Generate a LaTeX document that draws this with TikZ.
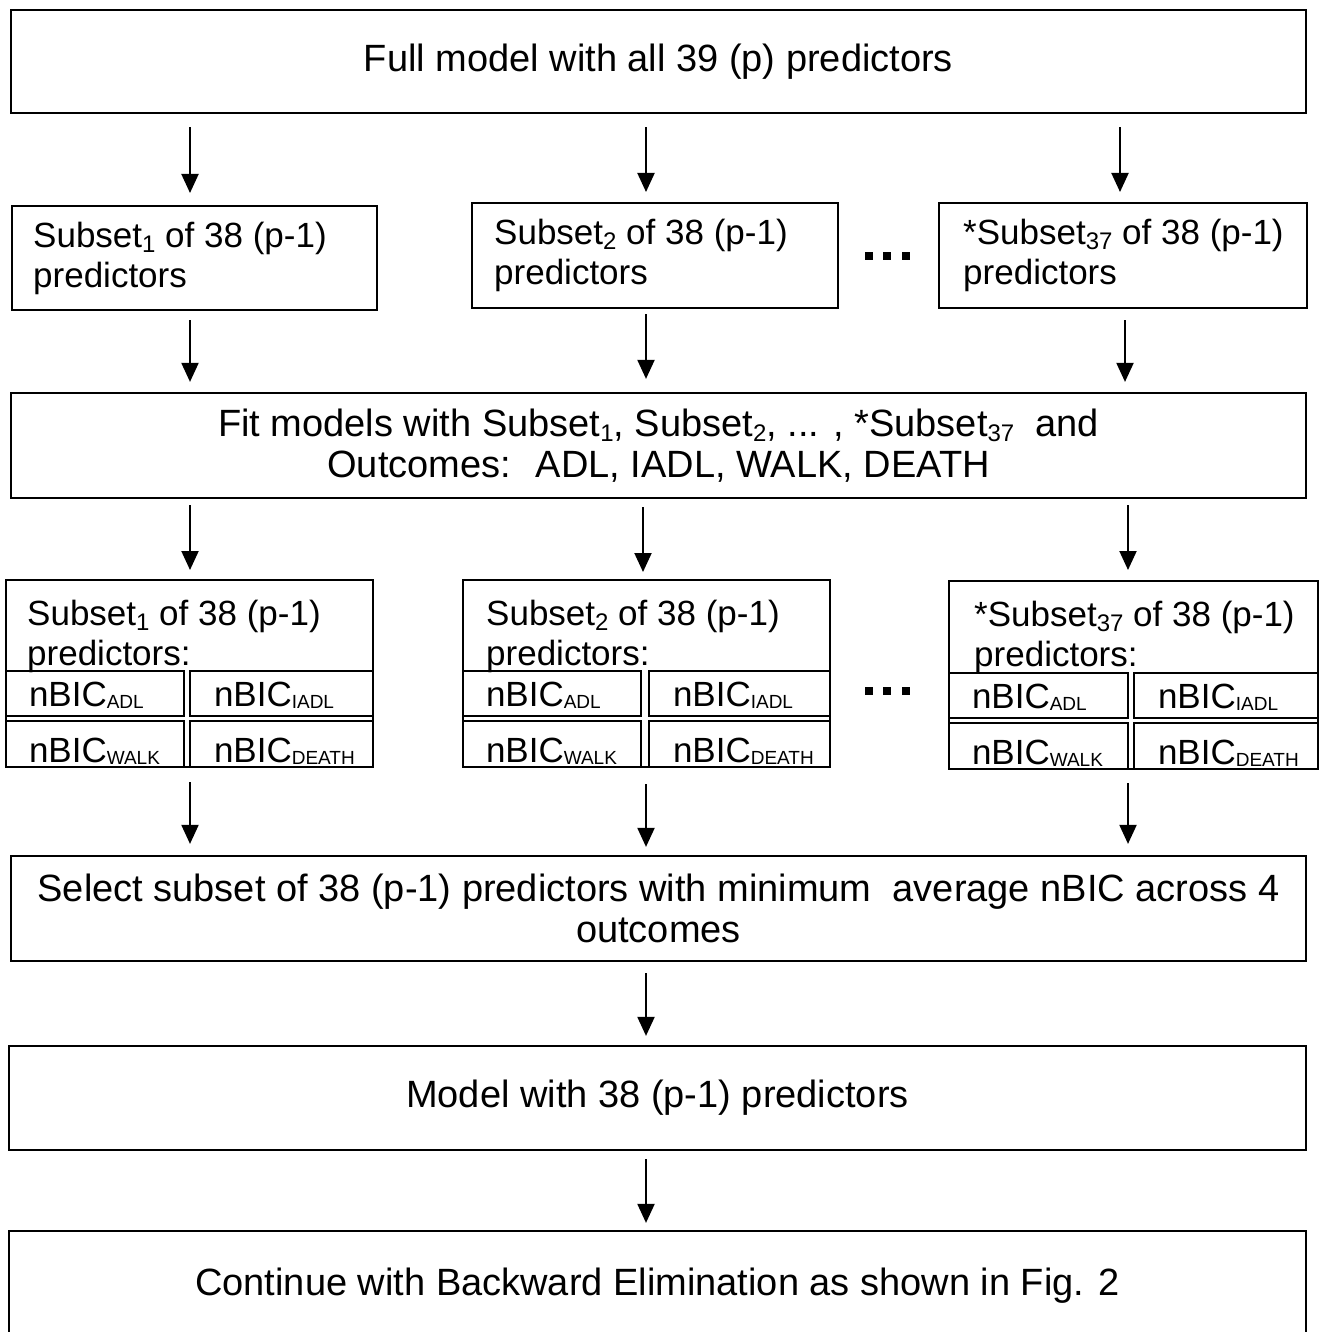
\documentclass[tikz,border=0pt]{standalone}
\usepackage{fontspec}
\setmainfont{Liberation Sans}
\usetikzlibrary{arrows.meta}
\newcommand\sbn[1]{\raisebox{-5pt}{\fontsize{24}{24}\selectfont #1}}
\newcommand\sbt[1]{\raisebox{-2pt}{\fontsize{19}{19}\selectfont #1}}
\begin{document}
\begin{tikzpicture}[x=1pt,y=-1pt,
  box/.style={draw, line width=2.2pt, inner sep=0pt, align=center, font=\fontsize{38}{41}\selectfont},
  frame/.style={draw, line width=2.2pt, inner sep=0pt, anchor=north west},
  txt/.style={inner sep=0pt, align=left, font=\fontsize{35}{40}\selectfont},
  cellA/.style={draw, line width=2pt, inner ysep=0pt, inner xsep=23pt, anchor=north west, align=left, text height=35pt, text depth=10pt, font=\fontsize{35}{40}\selectfont},
  cellB/.style={cellA, text height=41pt, text depth=5pt},
  arr/.style={line width=2pt, -{Triangle[length=19pt,width=17pt]}},
  sq/.style={fill=black}
]
\useasboundingbox (0,0) rectangle (1324,1332);

% top
\node[box, minimum width=1295, minimum height=103] (full) at (658.5,61.5) {Full model with all 39 (p) predictors};

% first subsets
\node[frame, minimum width=365, minimum height=104] (s1) at (11,205) {};
\node[txt, anchor=west] (s1t) at (33,258) {Subset\sbn{1} of 38 (p-1)\\predictors};
\node[frame, minimum width=366, minimum height=105] (s2) at (471,202) {};
\node[txt, anchor=west] (s2t) at (494,255.5) {Subset\sbn{2} of 38 (p-1)\\predictors};
\node[frame, minimum width=368, minimum height=105] (s3) at (938,202) {};
\node[txt, anchor=west] (s3t) at (963,255.5) {*Subset\sbn{37} of 38 (p-1)\\predictors};
\fill[sq] (865,252) rectangle ++(8,8);
\fill[sq] (883,252) rectangle ++(8,8);
\fill[sq] (902,252) rectangle ++(8,8);

% fit
\node[box, minimum width=1295, minimum height=105] (fit) at (658.5,445.5) {Fit models with Subset\sbn{1}, Subset\sbn{2}, ... , *Subset\sbn{37} \ and\\Outcomes: \ ADL, IADL, WALK, DEATH};

% lower boxes 1
\node[frame, minimum width=367, minimum height=187] (b1) at (5,579) {};
\node[txt, anchor=north west] (b1t) at (27,600) {Subset\sbn{1} of 38 (p-1)\\predictors:};
\node[cellA, text width=132pt] (b1a) at (5,670) {nBIC\sbt{ADL}};
\node[cellA, text width=135pt, inner xsep=24pt] (b1b) at (189,670) {nBIC\sbt{IADL}};
\node[cellB, text width=132pt] (b1c) at (5,720) {nBIC\sbt{WALK}};
\node[cellB, text width=135pt, inner xsep=24pt] (b1d) at (189,720) {nBIC\sbt{DEATH}};

% lower boxes 2
\node[frame, minimum width=367, minimum height=187] (b2) at (462,579) {};
\node[txt, anchor=north west] (b2t) at (486,600) {Subset\sbn{2} of 38 (p-1)\\predictors:};
\node[cellA, text width=132pt] (b2a) at (462,670) {nBIC\sbt{ADL}};
\node[cellA, text width=133pt, inner xsep=24pt] (b2b) at (648,670) {nBIC\sbt{IADL}};
\node[cellB, text width=132pt] (b2c) at (462,720) {nBIC\sbt{WALK}};
\node[cellB, text width=133pt, inner xsep=24pt] (b2d) at (648,720) {nBIC\sbt{DEATH}};
\fill[sq] (865,687) rectangle ++(8,8);
\fill[sq] (883,687) rectangle ++(8,8);
\fill[sq] (902,687) rectangle ++(8,8);

% lower boxes 3
\node[frame, minimum width=369, minimum height=188] (b3) at (948,580) {};
\node[txt, anchor=north west] (b3t) at (974,601) {*Subset\sbn{37} of 38 (p-1)\\predictors:};
\node[cellA, text width=133pt] (b3a) at (948,672) {nBIC\sbt{ADL}};
\node[cellA, text width=136pt, inner xsep=24pt] (b3b) at (1133,672) {nBIC\sbt{IADL}};
\node[cellB, text width=133pt] (b3c) at (948,722) {nBIC\sbt{WALK}};
\node[cellB, text width=136pt, inner xsep=24pt] (b3d) at (1133,722) {nBIC\sbt{DEATH}};

% select
\node[box, minimum width=1295, minimum height=105] (sel) at (658.5,908.5) {Select subset of 38 (p-1) predictors with minimum \ average nBIC across 4\\outcomes};
% model
\node[box, minimum width=1297, minimum height=104] (mod) at (657.5,1098) {Model with 38 (p-1) predictors};
% continue
\node[box, minimum width=1297, minimum height=109] (cont) at (657.5,1285.5) {Continue with Backward Elimination as shown in Fig. 2};

% arrows
\draw[arr, shorten <=13pt, shorten >=12pt] (full.south -| 190,0) -- (s1.north -| 190,0);
\draw[arr, shorten <=13pt, shorten >=10pt] (full.south -| 646,0) -- (s2.north -| 646,0);
\draw[arr, shorten <=13pt, shorten >=10pt] (full.south -| 1120,0) -- (s3.north -| 1120,0);

\draw[arr, shorten <=9pt, shorten >=10pt] (s1.south -| 190,0) -- (fit.north -| 190,0);
\draw[arr, shorten <=5pt, shorten >=13pt] (s2.south -| 646,0) -- (fit.north -| 646,0);
\draw[arr, shorten <=11pt, shorten >=10pt] (s3.south -| 1125,0) -- (fit.north -| 1125,0);

\draw[arr, shorten <=6pt, shorten >=9pt] (fit.south -| 190,0) -- (b1.north -| 190,0);
\draw[arr, shorten <=8pt, shorten >=7pt] (fit.south -| 643,0) -- (b2.north -| 643,0);
\draw[arr, shorten <=6pt, shorten >=10pt] (fit.south -| 1128,0) -- (b3.north -| 1128,0);

\draw[arr, shorten <=14pt, shorten >=11pt] (b1.south -| 190,0) -- (sel.north -| 190,0);
\draw[arr, shorten <=16pt, shorten >=8pt] (b2.south -| 646,0) -- (sel.north -| 646,0);
\draw[arr, shorten <=13pt, shorten >=11pt] (b3.south -| 1128,0) -- (sel.north -| 1128,0);

\draw[arr, shorten <=11pt, shorten >=9pt] (sel.south -| 646,0) -- (mod.north -| 646,0);
\draw[arr, shorten <=8pt, shorten >=7pt] (mod.south -| 646,0) -- (cont.north -| 646,0);
\end{tikzpicture}
\end{document}
